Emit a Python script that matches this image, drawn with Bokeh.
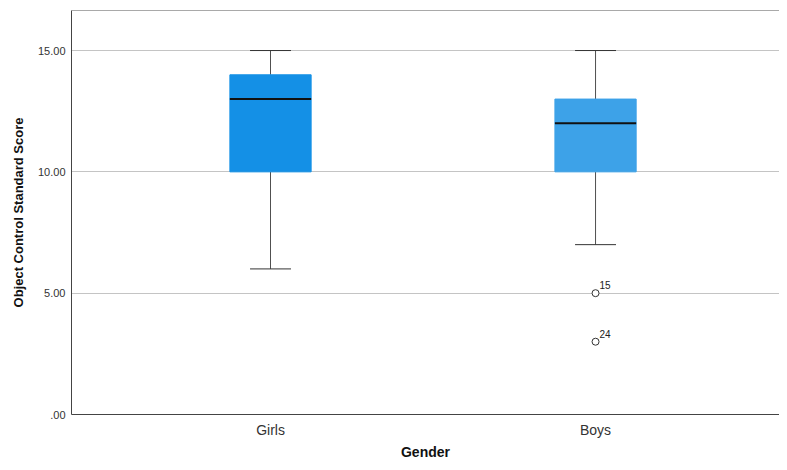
from bokeh.plotting import figure
from bokeh.models import Range1d, FixedTicker, Span, ColumnDataSource, LabelSet
from bokeh.core.properties import value
from bokeh.embed import file_html
from bokeh.resources import INLINE

# ---- data ----
groups = ["Girls", "Boys"]
x_pos = [1, 2]
whisker_low = [6, 7]
q1 = [10, 10]
median = [13, 12]
q3 = [14, 13]
whisker_high = [15, 15]
box_colors = ["#1490e6", "#3da2e8"]

outlier_x = [2, 2]
outlier_values = [5, 3]
outlier_labels = ["15", "24"]

y_ticks = [0, 5, 10, 15]
y_tick_labels = [".00", "5.00", "10.00", "15.00"]

# ---- figure ----
box_w = 0.25
cap_w = 0.126
y_top = 16.65

p = figure(width=779, height=462, output_backend="svg", toolbar_location=None,
           x_range=Range1d(0.3877, 2.566), y_range=Range1d(0, y_top),
           min_border_left=71, min_border_right=0, min_border_top=10, min_border_bottom=45)
p.outline_line_color = None
p.background_fill_color = "white"
p.border_fill_color = "white"

# grid
p.xgrid.grid_line_color = None
p.ygrid.ticker = FixedTicker(ticks=[t for t in y_ticks if t > 0])
p.ygrid.grid_line_color = "#c4c4c4"
p.ygrid.grid_line_width = 1

src = ColumnDataSource(dict(
    x=x_pos, low=whisker_low, q1=q1, med=median, q3=q3, high=whisker_high, color=box_colors,
    bx0=[x - box_w / 2 for x in x_pos], bx1=[x + box_w / 2 for x in x_pos],
    cx0=[x - cap_w / 2 for x in x_pos], cx1=[x + cap_w / 2 for x in x_pos],
))

whisk = "#505050"
# whiskers
p.segment(x0="x", y0="q3", x1="x", y1="high", source=src, line_color=whisk, line_width=1)
p.segment(x0="x", y0="low", x1="x", y1="q1", source=src, line_color=whisk, line_width=1)
# caps
p.segment(x0="cx0", y0="high", x1="cx1", y1="high", source=src, line_color="#333333", line_width=1)
p.segment(x0="cx0", y0="low", x1="cx1", y1="low", source=src, line_color="#333333", line_width=1)
# boxes
p.vbar(x="x", width=box_w, bottom="q1", top="q3", source=src,
       fill_color="color", line_color="color", line_width=1)
# medians
p.segment(x0="bx0", y0="med", x1="bx1", y1="med", source=src, line_color="#111111", line_width=2)

# outliers
osrc = ColumnDataSource(dict(x=outlier_x, y=outlier_values, label=outlier_labels))
p.scatter(x="x", y="y", source=osrc, size=7, marker="circle",
          fill_color="white", line_color="#333333", line_width=1)
p.add_layout(LabelSet(x="x", y="y", text="label", source=osrc, x_offset=4, y_offset=4,
                      text_font=value("Liberation Sans"), text_font_size=value("10px"),
                      text_color="#222222", text_baseline="bottom"))

# top border
p.add_layout(Span(location=y_top, dimension="width", line_color="#555555", line_width=1))

# axes
p.xaxis.ticker = FixedTicker(ticks=x_pos)
p.xaxis.major_label_overrides = {x: g for x, g in zip(x_pos, groups)}
p.xaxis.axis_label = "Gender"
p.yaxis.ticker = FixedTicker(ticks=y_ticks)
p.yaxis.major_label_overrides = {t: l for t, l in zip(y_ticks, y_tick_labels)}
p.yaxis.axis_label = "Object Control Standard Score"

for ax in (p.xaxis, p.yaxis):
    ax.axis_line_color = "#444444"
    ax.axis_line_width = 1
    ax.major_tick_line_color = None
    ax.minor_tick_line_color = None
    ax.major_label_text_font = "Liberation Sans"
    ax.major_label_text_color = "#333333"
    ax.axis_label_text_font = "Liberation Sans"
    ax.axis_label_text_font_style = "bold"
    ax.axis_label_text_color = "#111111"

p.xaxis.major_label_text_font_size = "14px"
p.xaxis.major_label_standoff = 1
p.xaxis.axis_label_text_font_size = "14px"
p.xaxis.axis_label_standoff = 3
p.yaxis.major_label_text_font_size = "11px"
p.yaxis.major_label_standoff = 0
p.yaxis.axis_label_text_font_size = "13px"
p.yaxis.axis_label_standoff = 9

open("out.html", "w").write(file_html(p, INLINE))
